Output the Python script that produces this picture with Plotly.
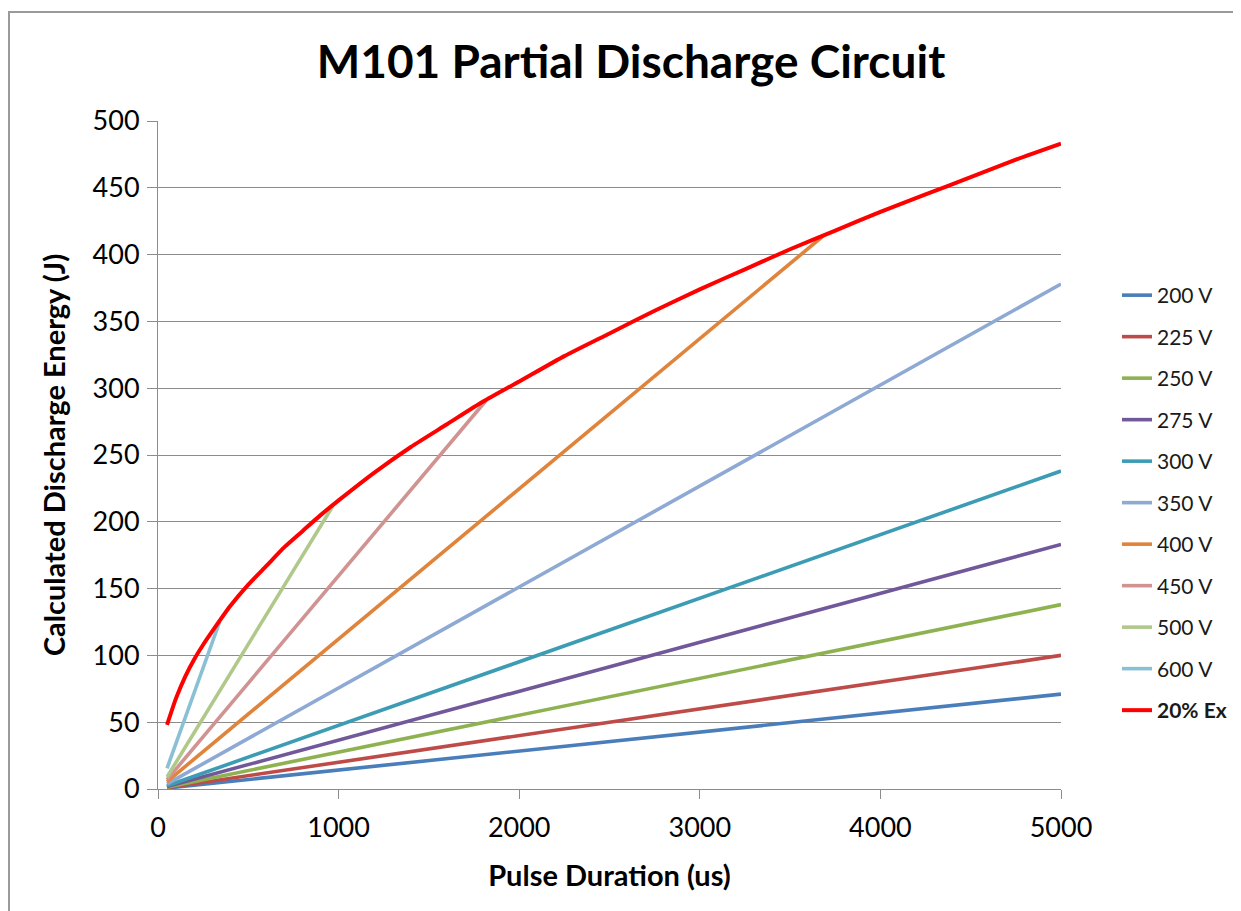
import plotly.graph_objects as go

# ---- data ----
series_names = ["200 V", "225 V", "250 V", "275 V", "300 V", "350 V", "400 V", "450 V", "500 V", "600 V"]
series_x = [
    [50, 5000],
    [50, 5000],
    [50, 5000],
    [50, 5000],
    [50, 5000],
    [50, 5000],
    [50, 3684],
    [50, 1818],
    [50, 969],
    [50, 341],
]
series_y = [
    [0.7, 71],
    [1.0, 100],
    [1.4, 138],
    [1.8, 183],
    [2.4, 238],
    [3.8, 378],
    [5.5, 414],
    [7.0, 291],
    [9.0, 212],
    [15.5, 125],
]
series_colors = ["#4A7EBB", "#BE4B48", "#8FB251", "#71589A", "#3C9CB4",
                 "#8EA9D3", "#E0843C", "#D09392", "#B0C98B", "#8AC0D4"]

ex_name = "<b>20% Ex</b>"
ex_x = [50, 100, 150, 200, 250, 300, 400, 500, 600, 700, 800, 900, 1000, 1200, 1400,
        1600, 1800, 2000, 2250, 2500, 2750, 3000, 3250, 3500, 3750, 4000, 4250, 4500, 4750, 5000]
ex_y = [48, 68, 84, 97, 108, 118, 137, 153, 167, 181, 193, 205, 216, 237, 256,
        273, 290, 305, 324, 341, 358, 374, 389, 404, 418, 432, 445, 458, 471, 483]

x_ticks = [0, 1000, 2000, 3000, 4000, 5000]
y_ticks = [0, 50, 100, 150, 200, 250, 300, 350, 400, 450, 500]

FONT = "Lato"
OFF = 8  # page body margin offset

fig = go.Figure()
for i, (n, xs, ys, c) in enumerate(zip(series_names, series_x, series_y, series_colors)):
    fig.add_trace(go.Scatter(x=xs, y=ys, mode="lines", name=n, legendgroup=f"g{i}",
                             line=dict(color=c, width=3.6)))
fig.add_trace(go.Scatter(x=ex_x, y=ex_y, mode="lines", name=ex_name, legendgroup="gex",
                         line=dict(color="#FF0000", width=4, shape="spline", smoothing=0.6)))

# target screen pixel positions, converted to figure coords
L, R, T, B = 158 - OFF, 1061 - OFF, 121 - OFF, 789 - OFF
W, H = 1241, 911
pw, ph = R - L, B - T

def px_x(p):
    return (p - OFF - L) / pw

def px_y(p):
    return (B - (p - OFF)) / ph

fig.update_layout(
    width=W, height=H,
    margin=dict(l=L, r=W - R, t=T, b=H - B, autoexpand=False),
    paper_bgcolor="white", plot_bgcolor="white",
    font=dict(family=FONT, color="black"),
    title=dict(text="<b>M101 Partial Discharge Circuit</b>", x=px_x(631), xanchor="center",
               xref="paper", y=1 - (62 - OFF) / H, yanchor="middle",
               font=dict(size=46, family=FONT, color="black")),
    showlegend=True,
    legend=dict(x=px_x(1117), xanchor="left", y=px_y(275), yanchor="top",
                font=dict(size=21, family=FONT, color="#1a1a1a"),
                tracegroupgap=11.2, bgcolor="rgba(0,0,0,0)", itemwidth=30),
    xaxis=dict(range=[0, 5000], tickvals=x_ticks, showgrid=False, zeroline=False,
               showline=True, linecolor="#8C8C8C", linewidth=1,
               ticks="outside", ticklen=9, tickcolor="#8C8C8C", ticklabelstandoff=6,
               tickfont=dict(size=27, family=FONT, color="black"),
               title=dict(text="<b>Pulse Duration (us)</b>", font=dict(size=29, family=FONT, color="black"),
                          standoff=23)),
    yaxis=dict(range=[0, 500], tickvals=y_ticks, showgrid=True, gridcolor="#8C8C8C", gridwidth=1,
               zeroline=False, showline=True, linecolor="#8C8C8C", linewidth=1,
               ticks="outside", ticklen=10, tickcolor="#8C8C8C", ticklabelstandoff=2,
               tickfont=dict(size=27, family=FONT, color="black"),
               title=dict(text="<b>Calculated Discharge Energy (J)</b>",
                          font=dict(size=29, family=FONT, color="black"), standoff=18)),
    shapes=[dict(type="rect", xref="paper", yref="paper",
                 x0=px_x(9), x1=px_x(1260), y0=px_y(930), y1=px_y(12),
                 line=dict(color="#9A9A9A", width=2), fillcolor="rgba(0,0,0,0)", layer="below")],
)

fig.write_html("out.html")
